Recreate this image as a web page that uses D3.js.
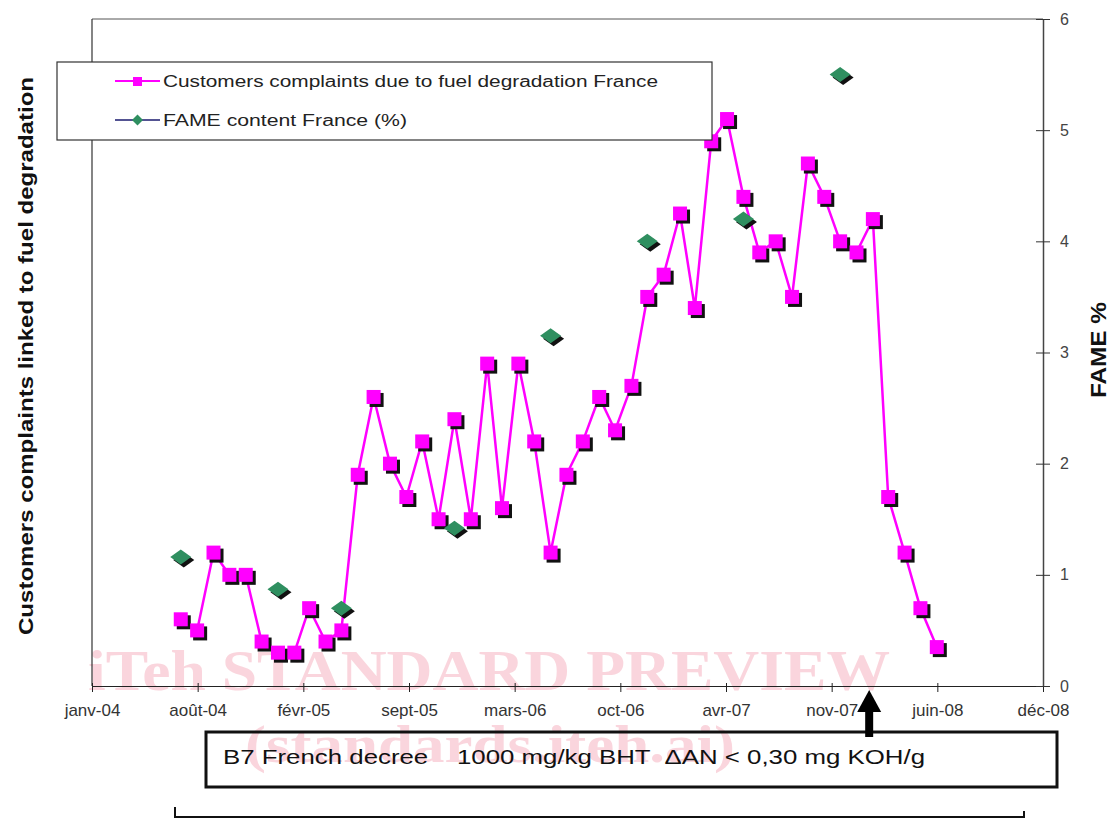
<!DOCTYPE html>
<html>
<head>
<meta charset="utf-8">
<script src="https://cdn.jsdelivr.net/npm/d3@7"></script>
<style>
  html, body { margin: 0; padding: 0; background: #ffffff; }
  svg { display: block; }
</style>
</head>
<body>
<svg id="chart" width="1113" height="819"></svg>
<script>
// ---------------- DATA ----------------
const complaintMonths = [
  "2004-07","2004-08","2004-09","2004-10","2004-11","2004-12",
  "2005-01","2005-02","2005-03","2005-04","2005-05","2005-06",
  "2005-07","2005-08","2005-09","2005-10","2005-11","2005-12",
  "2006-01","2006-02","2006-03","2006-04","2006-05","2006-06",
  "2006-07","2006-08","2006-09","2006-10","2006-11","2006-12",
  "2007-01","2007-02","2007-03","2007-04","2007-05","2007-06",
  "2007-07","2007-08","2007-09","2007-10","2007-11","2007-12",
  "2008-01","2008-02","2008-03","2008-04","2008-05","2008-06"
];
const complaintValues = [
  0.6, 0.5, 1.2, 1.0, 1.0, 0.4,
  0.3, 0.3, 0.7, 0.4, 0.5, 1.9,
  2.6, 2.0, 1.7, 2.2, 1.5, 2.4,
  1.5, 2.9, 1.6, 2.9, 2.2, 1.2,
  1.9, 2.2, 2.6, 2.3, 2.7, 3.5,
  3.7, 4.25, 3.4, 4.9, 5.1, 4.4,
  3.9, 4.0, 3.5, 4.7, 4.4, 4.0,
  3.9, 4.2, 1.7, 1.2, 0.7, 0.35
];
const fameMonths = ["2004-07","2005-01","2005-05","2005-12","2006-06","2006-12","2007-06","2007-12"];
const fameValues = [1.16, 0.87, 0.70, 1.42, 3.15, 4.0, 4.2, 5.5];

const xTickDates = ["2004-01-15","2004-08-02","2005-02-18","2005-09-06","2006-03-25",
                    "2006-10-11","2007-04-29","2007-11-15","2008-06-02","2008-12-19"];
const xTickLabels = ["janv-04","août-04","févr-05","sept-05","mars-06",
                     "oct-06","avr-07","nov-07","juin-08","déc-08"];
const yTicks = [0, 1, 2, 3, 4, 5, 6];

const seriesNames = ["Customers complaints due to fuel degradation France", "FAME content France (%)"];
const leftTitle = "Customers complaints linked to fuel degradation";
const rightTitle = "FAME %";
const noteText = "B7 French decree    1000 mg/kg BHT  \u0394AN < 0,30 mg KOH/g";
const noteDate = "2008-01-25";
const watermark1 = "iTeh STANDARD PREVIEW";
const watermark2 = "(standards.iteh.ai)";

// ---------------- LAYOUT ----------------
const svg = d3.select("#chart");
const pL = 92, pR = 1043, pT = 19, pB = 686;
const parseM = d3.timeParse("%Y-%m");
const parseD = d3.timeParse("%Y-%m-%d");

const x = d3.scaleTime()
  .domain([parseD(xTickDates[0]), parseD(xTickDates[xTickDates.length - 1])])
  .range([pL, pR]);
const y = d3.scaleLinear().domain([0, 6]).range([pB, pT]);

const complaints = complaintMonths.map((m, i) => ({ d: parseM(m), v: complaintValues[i] }));
const fame = fameMonths.map((m, i) => ({ d: parseM(m), v: fameValues[i] }));

const MAG = "#ff00ff", GREEN = "#2f8f60", NAVY = "#1a1a6e";
const FONT = "'Liberation Sans', Arial, sans-serif";

// watermark (very faint, behind)
const wm = svg.append("g").attr("opacity", 0.3);
wm.append("text").attr("x", 88).attr("y", 690)
  .attr("font-family", "'Liberation Serif', 'DejaVu Serif', serif").attr("font-weight", "bold")
  .attr("font-size", 56).attr("fill", "#f07890")
  .attr("textLength", 802).attr("lengthAdjust", "spacingAndGlyphs").text(watermark1);
wm.append("text").attr("x", 245).attr("y", 762)
  .attr("font-family", "'Liberation Serif', 'DejaVu Serif', serif").attr("font-weight", "bold")
  .attr("font-size", 52).attr("fill", "#f07890")
  .attr("textLength", 490).attr("lengthAdjust", "spacingAndGlyphs").text(watermark2);

// frame: top and left lines
svg.append("line").attr("x1", pL).attr("x2", pR).attr("y1", pT).attr("y2", pT)
  .attr("stroke", "#555").attr("stroke-width", 1);
svg.append("line").attr("x1", pL).attr("x2", pL).attr("y1", pT).attr("y2", pB)
  .attr("stroke", "#333").attr("stroke-width", 1.2);

// x axis
const tickDates = xTickDates.map(parseD);
const xAxis = d3.axisBottom(x).tickValues(tickDates)
  .tickFormat((d, i) => xTickLabels[i]).tickSizeInner(6).tickSizeOuter(0).tickPadding(11);
const gx = svg.append("g").attr("transform", `translate(0,${pB})`).call(xAxis);
gx.select(".domain").attr("stroke", "#222").attr("stroke-width", 1.2);
gx.selectAll(".tick line").attr("stroke", "#222").attr("y1", -3);
gx.selectAll(".tick text").attr("font-family", FONT).attr("font-size", 17)
  .attr("fill", "#333").attr("dy", "0.75em");

// right axis
const yAxis = d3.axisRight(y).tickValues(yTicks).tickFormat(d3.format("d"))
  .tickSizeInner(7).tickSizeOuter(0).tickPadding(10);
const gy = svg.append("g").attr("transform", `translate(${pR},0)`).call(yAxis);
gy.select(".domain").attr("stroke", "#444").attr("stroke-width", 1.5);
gy.selectAll(".tick line").attr("stroke", "#333").attr("x1", -7);
gy.selectAll(".tick text").attr("font-family", FONT).attr("font-size", 16).attr("fill", "#444");

// complaints line
const line = d3.line().x(d => x(d.d)).y(d => y(d.v));
svg.append("path").datum(complaints).attr("d", line)
  .attr("fill", "none").attr("stroke", MAG).attr("stroke-width", 2.5).attr("stroke-linejoin", "round");

// complaints markers with shadow
const sq = 14;
const cm = svg.append("g");
cm.selectAll("rect.sh").data(complaints).join("rect").attr("class", "sh")
  .attr("x", d => x(d.d) - sq / 2 + 3).attr("y", d => y(d.v) - sq / 2 + 3)
  .attr("width", sq).attr("height", sq).attr("fill", "#111");
cm.selectAll("rect.mk").data(complaints).join("rect").attr("class", "mk")
  .attr("x", d => x(d.d) - sq / 2).attr("y", d => y(d.v) - sq / 2)
  .attr("width", sq).attr("height", sq).attr("fill", MAG);

// FAME diamonds with shadow
const diamond = (cx, cy, w, h) => `M${cx - w / 2},${cy} L${cx},${cy - h / 2} L${cx + w / 2},${cy} L${cx},${cy + h / 2} Z`;
const fm = svg.append("g");
fm.selectAll("path.sh").data(fame).join("path").attr("class", "sh")
  .attr("d", d => diamond(x(d.d) + 3, y(d.v) + 3, 21, 15)).attr("fill", "#111");
fm.selectAll("path.mk").data(fame).join("path").attr("class", "mk")
  .attr("d", d => diamond(x(d.d), y(d.v), 21, 15)).attr("fill", GREEN);

// legend
const lg = svg.append("g");
lg.append("rect").attr("x", 57).attr("y", 62).attr("width", 655).attr("height", 78)
  .attr("fill", "#fff").attr("stroke", "#333").attr("stroke-width", 1.2);
lg.append("line").attr("x1", 115).attr("x2", 160).attr("y1", 81).attr("y2", 81)
  .attr("stroke", MAG).attr("stroke-width", 2);
lg.append("rect").attr("x", 133).attr("y", 77).attr("width", 9).attr("height", 9).attr("fill", MAG);
lg.append("line").attr("x1", 115).attr("x2", 160).attr("y1", 120).attr("y2", 120)
  .attr("stroke", NAVY).attr("stroke-width", 1.5);
lg.append("path").attr("d", diamond(137.5, 120, 11, 11)).attr("fill", GREEN);
lg.selectAll("text").data(seriesNames).join("text")
  .attr("x", 163).attr("y", (d, i) => 87 + i * 39)
  .attr("font-family", FONT).attr("font-size", 16).attr("fill", "#222")
  .attr("textLength", (d, i) => i === 0 ? 495 : 244).attr("lengthAdjust", "spacingAndGlyphs")
  .text(d => d);

// axis titles
svg.append("text").attr("transform", `translate(33,${(77 + 635) / 2}) rotate(-90)`)
  .attr("text-anchor", "middle").attr("font-family", FONT).attr("font-weight", "bold")
  .attr("font-size", 21).attr("fill", "#111")
  .attr("textLength", 558).attr("lengthAdjust", "spacingAndGlyphs").text(leftTitle);
svg.append("text").attr("transform", `translate(1106,350) rotate(-90)`)
  .attr("text-anchor", "middle").attr("font-family", FONT).attr("font-weight", "bold")
  .attr("font-size", 22).attr("fill", "#111")
  .attr("textLength", 96).attr("lengthAdjust", "spacingAndGlyphs").text(rightTitle);

// note box
svg.append("rect").attr("x", 206).attr("y", 732).attr("width", 851).attr("height", 55)
  .attr("fill", "none").attr("stroke", "#111").attr("stroke-width", 3);
svg.append("text").attr("x", 223).attr("y", 764)
  .attr("font-family", FONT).attr("font-size", 21).attr("fill", "#111")
  .style("white-space", "pre")
  .attr("textLength", 702).attr("lengthAdjust", "spacingAndGlyphs").text(noteText);

// arrow
const ax = x(parseD(noteDate));
svg.append("line").attr("x1", ax).attr("x2", ax).attr("y1", 737).attr("y2", 708)
  .attr("stroke", "#000").attr("stroke-width", 8);
svg.append("path").attr("d", `M${ax - 12},${712} L${ax},${690} L${ax + 12},${712} Z`).attr("fill", "#000");

// bracket
svg.append("path").attr("d", "M175,807 L175,817 L1024,817 L1024,811")
  .attr("fill", "none").attr("stroke", "#111").attr("stroke-width", 2);
</script>
</body>
</html>
